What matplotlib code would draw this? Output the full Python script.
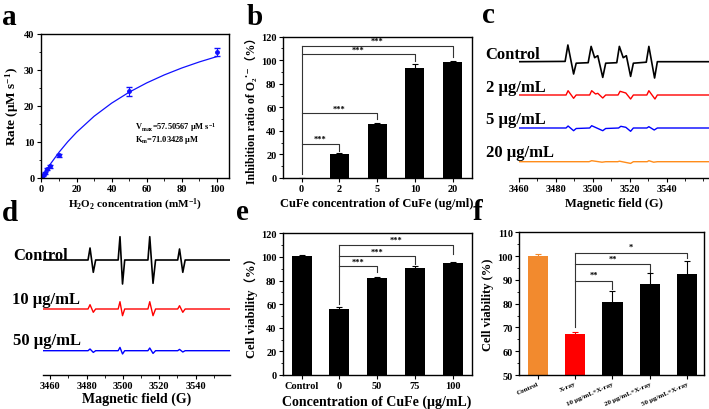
import matplotlib
matplotlib.use('Agg')
import matplotlib.pyplot as plt
from matplotlib.ticker import AutoMinorLocator
import numpy as np

plt.rcParams['font.family'] = ['Liberation Serif', 'DejaVu Serif', 'Noto Sans CJK SC']
plt.rcParams['font.weight'] = 'bold'
plt.rcParams['axes.labelweight'] = 'bold'
plt.rcParams['mathtext.fontset'] = 'custom'
plt.rcParams['mathtext.rm'] = 'Liberation Serif:bold'
plt.rcParams['mathtext.bf'] = 'Liberation Serif:bold'
plt.rcParams['mathtext.it'] = 'Liberation Serif:bold:italic'
plt.rcParams['mathtext.default'] = 'bf'

W, H = 709, 410

# panel a: kinetics
a_conc = [0.5, 1, 2, 3, 5, 10, 50, 100]
a_rate = [0.3, 0.7, 1.3, 2.6, 3.2, 6.3, 24.0, 35.0]
a_err = [0.2, 0.2, 0.3, 0.3, 0.3, 0.4, 1.2, 1.1]
a_fit_x = [0, 2, 5, 10, 15, 20, 30, 40, 50, 60, 70, 80, 90, 100]
a_fit_y = [0, 1.58, 3.78, 7.10, 10.03, 12.63, 17.08, 20.72, 23.76, 26.33, 28.54, 30.46, 32.14, 33.62]

# panel b: O2- inhibition
b_cats = ['0', '2', '5', '10', '20']
b_vals = [0, 20.5, 46, 93.5, 98.5]
b_err = [0, 0.5, 1.0, 3.5, 1.0]
b_brackets = [(1, 28.9, 23.2), (2, 54.9, 50), (3, 105.3, 99.6), (4, 112.4, 103)]

# panel c: EPR (DMPO-OOH), amplitudes relative to each baseline
c_names = ['Control', '2 µg/mL', '5 µg/mL', '20 µg/mL']
c_control_field = [3460, 3485, 3486.5, 3489.6, 3491, 3497.5, 3499.1, 3501, 3502.7, 3505.4, 3507,
                   3513, 3514.4, 3516.5, 3518.2, 3520.5, 3522, 3529, 3530.4, 3533.5, 3535, 3563]
c_control_amp = [0, 0.3, 16.7, -12.3, -1.5, -1, 15.3, 4, 6, -15.7, -1.5,
                 -1, 15.3, 4, 6, -14.7, -1.5, -0.5, 15.3, -16.3, 0, 0]
c_red_field = [3460, 3485.5, 3486.6, 3489.6, 3491, 3498.3, 3499.4, 3501.5, 3502.7, 3505.4, 3507,
               3513.7, 3514.8, 3517.9, 3520.5, 3522, 3529.3, 3530.4, 3533.7, 3535, 3563]
c_red_amp = [0, 0, 4.3, -3.3, 0, 0, 4.3, 1, 1.7, -3, 0,
             0, 3.7, 2, -4, 0, 0, 4.3, -4, 0, 0]
c_blue_field = [3460, 3485.5, 3486.6, 3489.6, 3491, 3498.3, 3499.4, 3505.4, 3507,
                3514, 3515.2, 3517.9, 3520.5, 3522, 3529.3, 3530.4, 3533.3, 3535, 3563]
c_blue_amp = [0, 0, 2, -2.7, -0.5, 0, 2.3, -2.7, -0.5,
              0, 1.7, 0.7, -3.3, 0, 0, 1.3, -2, 0, 0]
c_orange_field = [3460, 3498, 3499.4, 3505, 3507, 3513.5, 3514.5, 3520.5, 3522, 3529.5, 3530.4, 3533, 3535, 3563]
c_orange_amp = [0, 0, 1, -0.5, 0, 0, 0.5, -1.7, 0, 0, 1, -0.5, 0, 0]

# panel d: EPR (DMPO-OH)
d_names = ['Control', '10 µg/mL', '50 µg/mL']
d_field = [3456, 3480.8, 3481.9, 3483.7, 3485, 3497.4, 3498.4, 3499.8, 3501,
           3513.8, 3514.8, 3516.6, 3518, 3530.2, 3531.2, 3533, 3534.3, 3559]
d_control_amp = [0, 0, 12, -12.3, 0, 0, 23.3, -24, 0, 0, 23.3, -23.3, 0, 0, 11, -12.3, 0, 0]
d_red_amp = [0, 0, 4.3, -3.3, 0, 0, 7.3, -6.7, 0, 0, 7.3, -6.7, 0, 0, 3.3, -3.3, 0, 0]
d_blue_amp = [0, 0, 1.7, -1.7, 0, 0, 3.3, -3.3, 0, 0, 2.7, -2.7, 0, 0, 1.3, -1.3, 0, 0]

# panel e: cell viability
e_cats = ['Control', '0', '50', '75', '100']
e_vals = [100.5, 56, 82, 90.5, 94.5]
e_err = [1.0, 1.5, 0.7, 1.5, 0.8]
e_brackets = [(2, 92.3, 87), (3, 100.5, 94), (4, 110.4, 102.5)]

# panel f: cell viability with X-ray
f_cats = ['Control', 'X-ray', '10 µg/mL+X-ray', '20 µg/mL+X-ray', '50 µg/mL+X-ray']
f_vals = [100, 67.2, 80.7, 88.2, 92.4]
f_err = [1.0, 0.8, 4.5, 4.5, 5.6]
f_colors = ['#F28A2E', '#FF0000', 'black', 'black', 'black']
f_brackets = [(2, 89.7, 86.0, '**'), (3, 96.5, 93.5, '**'), (4, 101.5, 99.0, '*')]


def rect(l, t, r, b):
    return [l / W, 1 - b / H, (r - l) / W, (b - t) / H]


def ptext(x, y, s, **kw):
    fig.text(x / W, 1 - y / H, s, va='baseline', ha='left', **kw)


def style_box(ax):
    for sp in ax.spines.values():
        sp.set_linewidth(1.0)
    ax.tick_params(direction='out', length=3, width=0.8, labelsize=7.5, pad=1.5)
    ax.tick_params(which='minor', direction='out', length=1.8, width=0.6)


def bracket(ax, x0, x1, h, hend, stars, lw=0.8):
    ax.plot([x0, x1, x1], [h, h, hend], color='#333333', lw=lw)
    ax.text((x0 + x1) / 2, h + 0.6, stars, ha='center', va='bottom', fontsize=6)


fig = plt.figure(figsize=(W / 100, H / 100), dpi=100)

# ---- a
ax = fig.add_axes(rect(40.5, 34.5, 229.3, 179))
ax.plot(a_fit_x, a_fit_y, color='#1010FF', lw=0.9)
ax.errorbar(a_conc, a_rate, yerr=a_err, fmt='o', ms=2.5, color='#1010FF',
            ecolor='#1010FF', elinewidth=0.8, capsize=2)
ax.set_xlim(-0.5, 107)
ax.set_ylim(0, 40)
ax.set_xticks([0, 20, 40, 60, 80, 100])
ax.set_yticks([0, 10, 20, 30, 40])
ax.xaxis.set_minor_locator(AutoMinorLocator(2))
ax.yaxis.set_minor_locator(AutoMinorLocator(2))
style_box(ax)
ax.set_xlabel(r'H$_2$O$_2$ concentration (mM$^{-1}$)', fontsize=8, labelpad=2)
ax.set_ylabel(r'Rate (µM s$^{-1}$)', fontsize=9.5, labelpad=2)
ax.text(0.5, 0.34, r'V$_{max}$=57.50567 µM s$^{-1}$', transform=ax.transAxes, fontsize=6)
ax.text(0.5, 0.255, r'K$_m$=71.03428 µM', transform=ax.transAxes, fontsize=6)

# ---- b
ax = fig.add_axes(rect(282.7, 37.7, 471.5, 179))
xb = np.arange(len(b_cats))
ax.bar(xb, b_vals, width=0.5, color='black', yerr=b_err, capsize=2,
       error_kw=dict(elinewidth=0.8, capthick=0.8, ecolor='black'))
ax.plot([0, 0], [b_brackets[-1][1], 3], color='#333333', lw=0.8)
for i, h, hend in b_brackets:
    bracket(ax, 0, i, h, hend, '***')
ax.set_xlim(-0.5, 4.5)
ax.set_ylim(0, 120)
ax.set_xticks(xb, b_cats)
ax.set_yticks(range(0, 121, 20))
ax.yaxis.set_minor_locator(AutoMinorLocator(2))
style_box(ax)
ax.set_xlabel('CuFe concentration of CuFe (ug/ml)', fontsize=9, labelpad=3)
ax.set_ylabel('Inhibition ratio of O₂˙⁻（%）', fontsize=8.5, labelpad=2)

# ---- c
ax = fig.add_axes(rect(519, 30, 709, 179))
c_base = [116.3, 83, 50, 16.3]
c_series = [(c_control_field, c_control_amp, 'black', 1.2),
            (c_red_field, c_red_amp, '#FF0000', 1.0),
            (c_blue_field, c_blue_amp, '#0000FF', 1.0),
            (c_orange_field, c_orange_amp, '#FF8C1A', 1.0)]
for (fx, amp, col, lw), base in zip(c_series, c_base):
    ax.plot(fx, np.array(amp) + base, color=col, lw=lw)
ax.set_xlim(3460, 3563)
ax.set_ylim(0, 149)
ax.set_xticks([3460, 3480, 3500, 3520, 3540])
ax.xaxis.set_minor_locator(AutoMinorLocator(2))
for s in ['top', 'right', 'left']:
    ax.spines[s].set_visible(False)
ax.set_yticks([])
style_box(ax)
ax.set_xlabel('Magnetic field (G)', fontsize=9, labelpad=3)
for name, y in zip(c_names, [59.3, 92.3, 123.5, 156.7]):
    ptext(485.5, y, name, fontsize=12)

# ---- d
ax = fig.add_axes(rect(43, 220, 230, 376))
d_base = [115, 66, 24.3]
for amp, col, base, lw in zip([d_control_amp, d_red_amp, d_blue_amp],
                              ['black', '#FF0000', '#0000FF'], d_base, [1.2, 1.0, 1.0]):
    ax.plot(d_field, np.array(amp) + base, color=col, lw=lw)
ax.set_xlim(3456, 3559)
ax.set_ylim(0, 156)
ax.set_xticks([3460, 3480, 3500, 3520, 3540])
ax.xaxis.set_minor_locator(AutoMinorLocator(2))
for s in ['top', 'right', 'left']:
    ax.spines[s].set_visible(False)
ax.set_yticks([])
style_box(ax)
ax.set_xlabel('Magnetic field (G)', fontsize=10, labelpad=1)
for name, x, y in zip(d_names, [13.3, 11.7, 13.3], [260, 304, 345]):
    ptext(x, y, name, fontsize=12)

# ---- e
ax = fig.add_axes(rect(282.7, 234.3, 471.5, 376))
xe = np.arange(len(e_cats))
ax.bar(xe, e_vals, width=0.53, color='black', yerr=e_err, capsize=2,
       error_kw=dict(elinewidth=0.8, capthick=0.8, ecolor='black'))
ax.plot([1, 1], [e_brackets[-1][1], 60], color='#333333', lw=0.8)
for i, h, hend in e_brackets:
    bracket(ax, 1, i, h, hend, '***')
ax.set_xlim(-0.5, 4.5)
ax.set_ylim(0, 120)
ax.set_xticks(xe, e_cats)
ax.set_yticks(range(0, 121, 20))
ax.yaxis.set_minor_locator(AutoMinorLocator(2))
style_box(ax)
ax.set_xlabel('Concentration of CuFe (µg/mL)', fontsize=10, labelpad=3)
ax.set_ylabel('Cell viability（%）', fontsize=9, labelpad=2)

# ---- f
ax = fig.add_axes(rect(519, 233.3, 704, 376))
xf = np.arange(len(f_cats))
for i in range(len(f_cats)):
    ax.bar(xf[i], f_vals[i], bottom=0, width=0.54, color=f_colors[i], yerr=f_err[i],
           capsize=2, error_kw=dict(elinewidth=0.8, capthick=0.8, ecolor=f_colors[i]))
ax.plot([1, 1], [f_brackets[-1][1], 70], color='#333333', lw=0.8)
for i, h, hend, st in f_brackets:
    bracket(ax, 1, i, h, hend, st)
ax.set_xlim(-0.5, 4.45)
ax.set_ylim(50, 110)
ax.set_xticks(xf, f_cats, rotation=24, ha='right', rotation_mode='anchor')
ax.set_yticks(range(50, 111, 10))
ax.yaxis.set_minor_locator(AutoMinorLocator(2))
style_box(ax)
ax.tick_params(axis='x', labelsize=5, pad=1)
ax.set_ylabel('Cell viability (%)', fontsize=9, labelpad=2)

# panel letters
for letter, x, y in [('a', 2, 25), ('b', 247, 25), ('c', 482, 23),
                     ('d', 2, 221), ('e', 236, 220), ('f', 473, 220)]:
    ptext(x, y, letter, fontsize=21, fontweight='bold')

fig.savefig('out.png', dpi=100)
